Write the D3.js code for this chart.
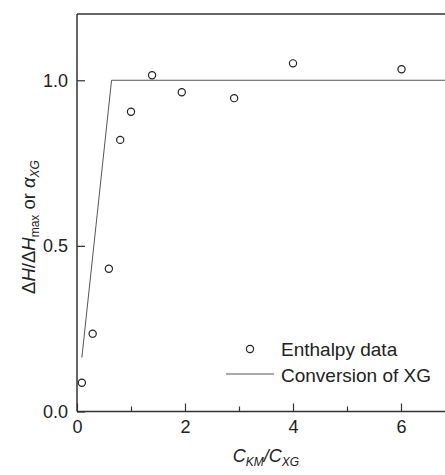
<!DOCTYPE html>
<html><head><meta charset="utf-8">
<script src="https://cdn.jsdelivr.net/npm/d3@7"></script>
<style>body{margin:0;background:#fff}svg{display:block}text{font-family:"Liberation Sans",Arial,sans-serif;fill:#222}</style>
</head><body>
<script>
const enthalpyX = [0.09, 0.29, 0.59, 0.80, 1.00, 1.39, 1.94, 2.91, 4.00, 6.01];
const enthalpyY = [0.087, 0.235, 0.431, 0.82, 0.905, 1.015, 0.964, 0.946, 1.051, 1.033];
const convX = [0.09, 0.64, 7.0];
const convY = [0.163, 1.0, 1.0];
const xMajorTicks = [0, 2, 4, 6];
const xMinorTicks = [1, 3, 5];
const yTicks = [0.0, 0.5, 1.0];
const legendLabels = ["Enthalpy data", "Conversion of XG"];

const W = 445, H = 475;
const x = d3.scaleLinear().domain([0, 6.815]).range([77, 445]);
const y = d3.scaleLinear().domain([0, 1.2]).range([411.5, 14]);

const svg = d3.select("body").append("svg").attr("width", W).attr("height", H);
const ink = "#333";
const font = "Liberation Sans, Arial, sans-serif";

// frame: left, bottom, top
svg.append("line").attr("x1", x(0)).attr("x2", x(0)).attr("y1", y(1.2)).attr("y2", y(0)).attr("stroke", ink).attr("stroke-width", 1.5);
svg.append("line").attr("x1", x(0)).attr("x2", W).attr("y1", y(0)).attr("y2", y(0)).attr("stroke", ink).attr("stroke-width", 1.5);
svg.append("line").attr("x1", x(0)).attr("x2", W).attr("y1", y(1.2)).attr("y2", y(1.2)).attr("stroke", ink).attr("stroke-width", 1.5);

// x axis
const xAxis = svg.append("g").attr("transform", `translate(0,${y(0)})`)
  .call(d3.axisBottom(x).tickValues(xMajorTicks).tickSize(-8).tickPadding(9).tickFormat(d3.format("d")));
xAxis.select(".domain").remove();
xAxis.selectAll(".tick line").attr("stroke", ink).attr("stroke-width", 1.2);
xAxis.selectAll("text").attr("font-size", 18).attr("fill", "#222").attr("font-family", font);
const xMinor = svg.append("g").attr("transform", `translate(0,${y(0)})`)
  .call(d3.axisBottom(x).tickValues(xMinorTicks).tickSize(-5).tickFormat(""));
xMinor.select(".domain").remove();
xMinor.selectAll(".tick line").attr("stroke", ink).attr("stroke-width", 1.2);

// y axis
const yAxis = svg.append("g").attr("transform", `translate(${x(0)},0)`)
  .call(d3.axisLeft(y).tickValues(yTicks).tickSize(-8).tickPadding(9).tickFormat(d3.format(".1f")));
yAxis.select(".domain").remove();
yAxis.selectAll(".tick line").attr("stroke", ink).attr("stroke-width", 1.2);
yAxis.selectAll("text").attr("font-size", 18).attr("fill", "#222").attr("font-family", font);

// conversion line
const convData = convX.map((v, i) => [v, convY[i]]);
svg.append("path").datum(convData)
  .attr("d", d3.line().x(d => x(d[0])).y(d => y(d[1])))
  .attr("fill", "none").attr("stroke", "#555").attr("stroke-width", 1);

// enthalpy points
const pts = enthalpyX.map((v, i) => [v, enthalpyY[i]]);
svg.append("g").selectAll("circle").data(pts).join("circle")
  .attr("cx", d => x(d[0])).attr("cy", d => y(d[1])).attr("r", 3.6)
  .attr("fill", "none").attr("stroke", "#222").attr("stroke-width", 1.2);

// legend
const lg = svg.append("g");
lg.append("circle").attr("cx", 250).attr("cy", 349).attr("r", 3.6).attr("fill", "none").attr("stroke", "#222").attr("stroke-width", 1.2);
lg.append("text").attr("x", 281).attr("y", 355.5).attr("font-size", 19).text(legendLabels[0]);
lg.append("line").attr("x1", 226).attr("x2", 274).attr("y1", 374).attr("y2", 374).attr("stroke", "#555").attr("stroke-width", 1);
lg.append("text").attr("x", 281).attr("y", 381.5).attr("font-size", 19).text(legendLabels[1]);

// x title
const xt = svg.append("text").attr("x", 266).attr("y", 462).attr("text-anchor", "middle").attr("font-size", 18).attr("font-style", "italic");
xt.append("tspan").text("C");
xt.append("tspan").attr("font-size", 12).attr("dy", 4).text("KM");
xt.append("tspan").attr("dy", -4).text("/C");
xt.append("tspan").attr("font-size", 12).attr("dy", 4).text("XG");

// y title
const yt = svg.append("text").attr("transform", "translate(35,227) rotate(-90)").attr("text-anchor", "middle").attr("font-size", 18.5);
yt.append("tspan").text("Δ");
yt.append("tspan").attr("font-style", "italic").text("H");
yt.append("tspan").text("/Δ");
yt.append("tspan").attr("font-style", "italic").text("H");
yt.append("tspan").attr("font-size", 12).attr("dy", 4).text("max");
yt.append("tspan").attr("dy", -4).text(" or ");
yt.append("tspan").attr("font-style", "italic").text("α");
yt.append("tspan").attr("font-size", 12).attr("dy", 4).attr("font-style", "italic").text("XG");
</script>
</body></html>
